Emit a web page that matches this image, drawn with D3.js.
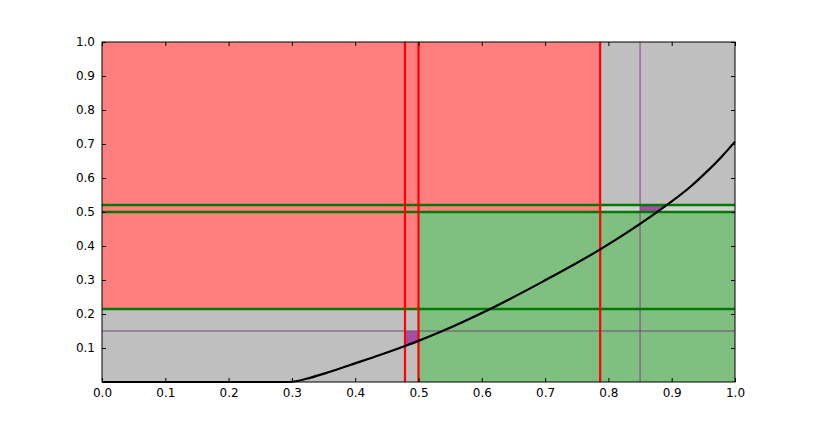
<!DOCTYPE html>
<html>
<head>
<meta charset="utf-8">
<script src="https://cdn.jsdelivr.net/npm/d3@7"></script>
<style>
  html, body { margin: 0; padding: 0; background: #ffffff; }
  svg text { font-family: "DejaVu Sans", sans-serif; font-size: 12px; fill: #000; }
</style>
</head>
<body>
<svg id="chart" width="817" height="425"></svg>
<script>
// ---- data ----
const xTicks = [0.0, 0.1, 0.2, 0.3, 0.4, 0.5, 0.6, 0.7, 0.8, 0.9, 1.0];
const yTicks = [0.1, 0.2, 0.3, 0.4, 0.5, 0.6, 0.7, 0.8, 0.9, 1.0];
const redLinesX = [0.4787, 0.5, 0.787];
const greenLinesY = [0.5206, 0.5, 0.2147];
const purpleLinesX = [0.85];
const purpleLinesY = [0.15];
const redRegion = [0.0, 0.787, 0.2147, 1.0];   // x0, x1, y0, y1
const greenRegion = [0.5, 1.0, 0.0, 0.5];
const bandRegion = [0.787, 1.0, 0.5, 0.5206];
const purpleBoxes = [[0.4787, 0.5, 0.0, 0.15], [0.85, 1.0, 0.5, 0.5206]];
const curveX = [0.0, 0.1, 0.2, 0.295, 0.33, 0.36, 0.392, 0.44, 0.4787, 0.5, 0.534, 0.61, 0.697, 0.787, 0.85, 0.892, 0.93, 0.955, 0.98, 1.0];
const curveY = [0.0, 0.0, 0.0, 0.0, 0.013, 0.03, 0.05, 0.08, 0.106, 0.121, 0.147, 0.212, 0.296, 0.39, 0.465, 0.52, 0.575, 0.618, 0.665, 0.707];

// ---- layout ----
const margin = {left: 102, top: 42, width: 633, height: 340};
const svg = d3.select("#chart");
const g = svg.append("g").attr("transform", `translate(${margin.left},${margin.top})`);
const x = d3.scaleLinear().domain([0, 1]).range([0, margin.width]);
const y = d3.scaleLinear().domain([0, 1]).range([margin.height, 0]);

const curve = curveX.map((v, i) => [v, curveY[i]]);

function rect(r, fill) {
  g.append("rect")
    .attr("x", x(r[0])).attr("width", x(r[1]) - x(r[0]))
    .attr("y", y(r[3])).attr("height", y(r[2]) - y(r[3]))
    .attr("fill", fill);
}

// background
rect([0, 1, 0, 1], "#bfbfbf");
rect(redRegion, "#ff7f7f");
rect(greenRegion, "#7fbf7f");
rect(bandRegion, "#d2d2d2");

// clip: area above curve
const defs = svg.append("defs");
defs.append("clipPath").attr("id", "aboveCurve")
  .append("path")
  .attr("d", d3.area().x(d => x(d[0])).y0(y(1)).y1(d => y(d[1])).curve(d3.curveMonotoneX)(curve));

const pg = g.append("g").attr("clip-path", "url(#aboveCurve)");
purpleBoxes.forEach(r => {
  pg.append("rect")
    .attr("x", x(r[0])).attr("width", x(r[1]) - x(r[0]))
    .attr("y", y(r[3])).attr("height", y(r[2]) - y(r[3]))
    .attr("fill", "#a34ea6");
});

// thin purple lines
purpleLinesX.forEach(v => g.append("line").attr("x1", x(v)).attr("x2", x(v)).attr("y1", 0).attr("y2", margin.height)
  .attr("stroke", "#8e3a94").attr("stroke-width", 1));
purpleLinesY.forEach(v => g.append("line").attr("x1", 0).attr("x2", margin.width).attr("y1", y(v)).attr("y2", y(v))
  .attr("stroke", "#6f4a75").attr("stroke-width", 1));

// green lines
greenLinesY.forEach(v => g.append("line").attr("x1", 0).attr("x2", margin.width).attr("y1", y(v)).attr("y2", y(v))
  .attr("stroke", "#007a00").attr("stroke-width", 2.5));

// red lines
redLinesX.forEach(v => g.append("line").attr("x1", x(v)).attr("x2", x(v)).attr("y1", 0).attr("y2", margin.height)
  .attr("stroke", "#ff0000").attr("stroke-width", 2.2));

// curve
g.append("path")
  .attr("d", d3.line().x(d => x(d[0])).y(d => y(d[1])).curve(d3.curveMonotoneX)(curve))
  .attr("fill", "none").attr("stroke", "#000").attr("stroke-width", 2.2);

// frame
g.append("rect").attr("x", 0).attr("y", 0).attr("width", margin.width).attr("height", margin.height)
  .attr("fill", "none").attr("stroke", "#000").attr("stroke-width", 1);

// axes (ticks inward, matplotlib classic)
const xAxis = d3.axisBottom(x).tickValues(xTicks).tickFormat(d3.format(".1f")).tickSizeInner(-4).tickSizeOuter(0).tickPadding(6);
const xAxisTop = d3.axisTop(x).tickValues(xTicks).tickFormat("").tickSizeInner(-4).tickSizeOuter(0);
const yAxis = d3.axisLeft(y).tickValues(yTicks).tickFormat(d3.format(".1f")).tickSizeInner(-4).tickSizeOuter(0).tickPadding(7);
const yAxisRight = d3.axisRight(y).tickValues(yTicks).tickFormat("").tickSizeInner(-4).tickSizeOuter(0);

g.append("g").attr("transform", `translate(0,${margin.height})`).call(xAxis);
g.append("g").call(xAxisTop);
g.append("g").call(yAxis);
g.append("g").attr("transform", `translate(${margin.width},0)`).call(yAxisRight);
g.selectAll(".domain").remove();
g.selectAll(".tick line").attr("stroke", "#000");
g.selectAll(".tick text").style("font-family", "DejaVu Sans, sans-serif").style("font-size", "12px");
</script>
</body>
</html>
